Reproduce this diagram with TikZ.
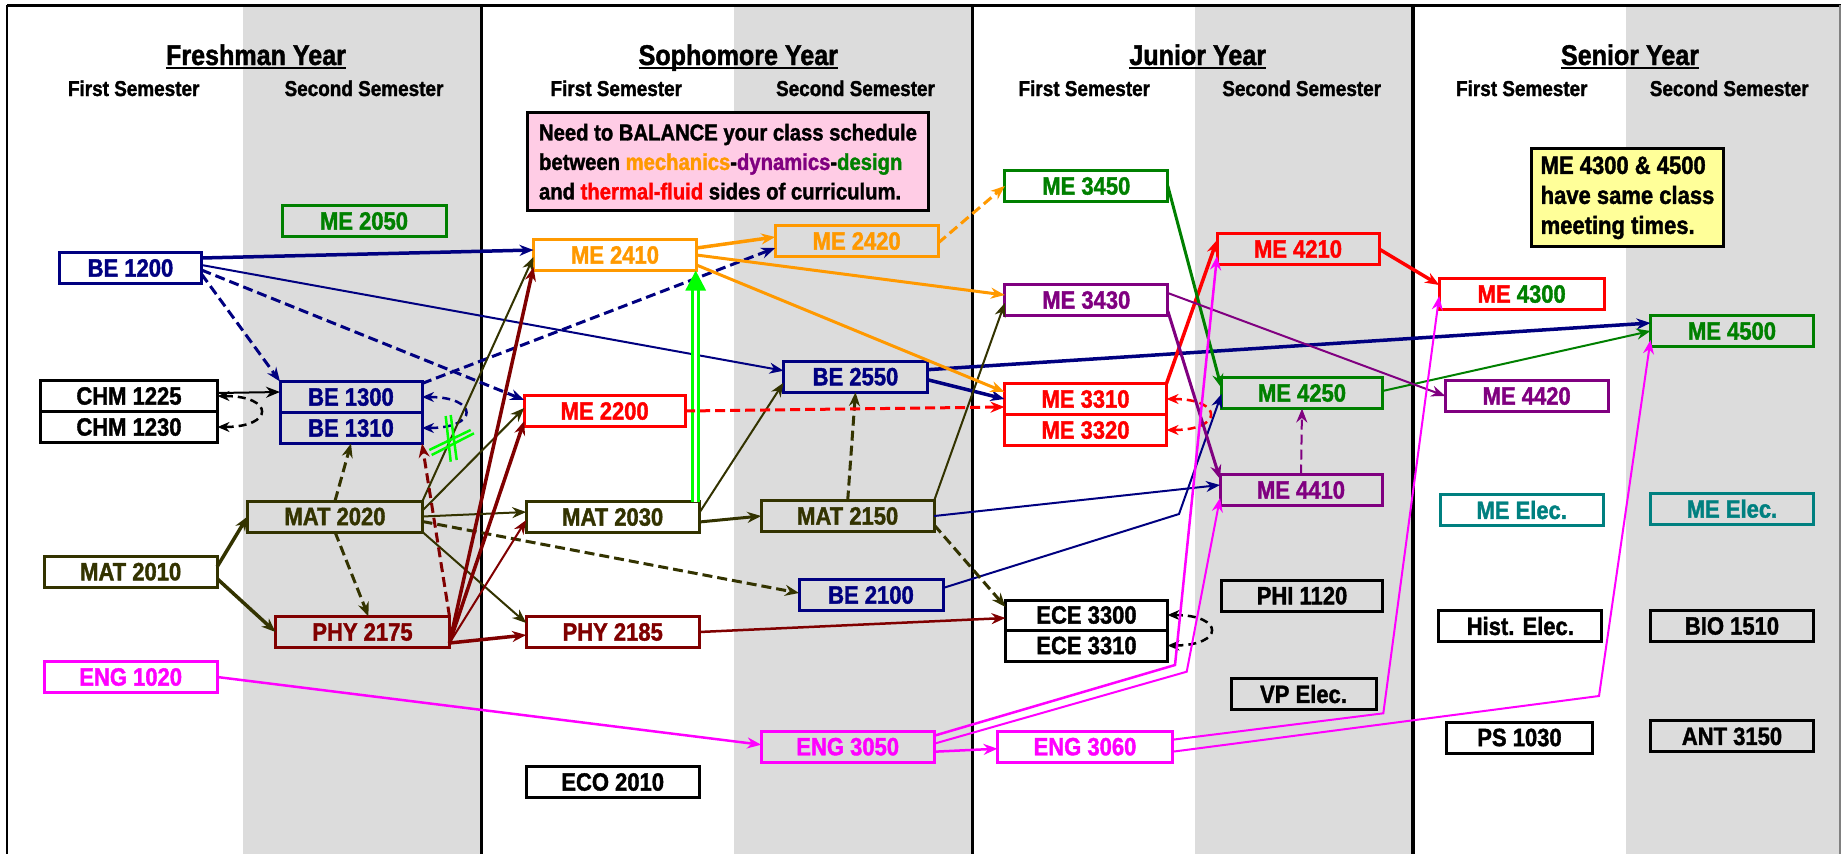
\documentclass[tikz,border=0pt]{standalone}
\usepackage{fontspec}
\setmainfont{Liberation Sans}[FakeStretch=0.88, BoldFeatures={FakeBold=1.5}]
\usetikzlibrary{arrows.meta,positioning}

\definecolor{cNavy}{RGB}{0,0,128}
\definecolor{cGreen}{RGB}{0,128,0}
\definecolor{cOrange}{RGB}{255,153,0}
\definecolor{cPurple}{RGB}{128,0,128}
\definecolor{cOlive}{RGB}{51,51,0}
\definecolor{cMaroon}{RGB}{128,0,0}
\definecolor{cRed}{RGB}{255,0,0}
\definecolor{cMagenta}{RGB}{255,0,255}
\definecolor{cTeal}{RGB}{0,128,128}
\definecolor{cLime}{RGB}{0,255,0}
\definecolor{cShade}{RGB}{220,220,220}
\definecolor{cPink}{RGB}{255,204,229}
\definecolor{cYellow}{RGB}{255,255,153}

\newcommand\coursefont{\bfseries\fontsize{25}{26}\selectfont}
\newcommand\yearfont{\bfseries\fontsize{28.5}{30}\selectfont}
\newcommand\semfont{\bfseries\fontsize{21.5}{23}\selectfont}
\newcommand\yearhead[1]{\setbox0=\hbox{#1}\hbox{\rlap{\rule[-3.5pt]{\wd0}{2pt}}\box0}}

\tikzset{
  course/.style={draw=#1, text=#1, line width=3pt, inner sep=0pt, outer sep=0pt,
    minimum height=31pt, font=\coursefont},
  yearhd/.style={font=\yearfont, anchor=base},
  semhd/.style={font=\semfont, anchor=base},
  notebox/.style={draw=black, line width=3pt, align=left, inner sep=0pt},
  prereq/.style={line width=2pt, -{Stealth[length=14pt,width=11pt]}},
  prereqbold/.style={prereq, line width=3.5pt},
  dashline/.style={dash pattern=on 10pt off 5pt},
  coreq/.style={draw=#1, line width=2.5pt, dash pattern=on 8pt off 5pt,
    {Stealth[length=12pt,width=10pt]}-{Stealth[length=12pt,width=10pt]}},
  hiarrow/.style={draw=cLime, line width=3pt, double=white, double distance=2.5pt,
    -{Triangle[length=20pt,width=20pt]}}
}

\begin{document}
\begin{tikzpicture}[x=1pt,y=-1pt]
\useasboundingbox (0,0) rectangle (1841,854);
% columns
\fill[white] (0,0) rectangle (1841,854);
\foreach \xa/\xb in {243/481.7, 734/972.5, 1195/1413, 1626/1841}
  \fill[cShade] (\xa,5) rectangle (\xb,854);
\draw[line width=3pt] (7,5) -- (1841,5);
\draw[line width=2pt] (7,5) -- (7,854);
\draw[gray, line width=1.5pt] (1840,5) -- (1840,854);
\foreach \x in {481.7,972.5,1413}
  \draw[line width=3.5pt] (\x,5) -- (\x,854);

% headings
\foreach \x/\yr [count=\i] in {256/Freshman, 738.3/Sophomore, 1197.7/Junior, 1630/Senior}
  \node[yearhd] (year\i) at (\x,65) {\yearhead{\yr\ Year}};
\foreach \x [count=\i] in {133.7,616.3,1084.3,1521.8}
  \node[semhd] (first\i) at (\x,96) {First Semester};
\foreach \x [count=\i] in {364,855.5,1301.7,1729.2}
  \node[semhd] (second\i) at (\x,96) {Second Semester};

% notes
\node[notebox, fill=cPink, minimum width=400.6pt, minimum height=98pt,
  font=\bfseries\fontsize{23}{29.5}\selectfont] (balance) at (728,161.7)
  {Need to BALANCE your class schedule\\
   between \textcolor{cOrange}{mechanics}-\textcolor{cPurple}{dynamics}-\textcolor{cGreen}{design}\\
   and \textcolor{cRed}{thermal-fluid} sides of curriculum.};
\node[notebox, fill=cYellow, minimum width=191.6pt, minimum height=97.7pt,
  font=\bfseries\fontsize{25}{30}\selectfont] (sametime) at (1627.5,197.8)
  {ME 4300 \& 4500\\ have same class\\ meeting times.};

% freshman
\node[course=cGreen, minimum width=164pt] (me2050) at (364,221) {ME 2050};
\node[course=cNavy, minimum width=142pt] (be1200) at (130.5,268) {BE 1200};
\node[course=black, minimum width=177pt] (chmA) at (129,396) {CHM 1225};
\node[course=black, minimum width=177pt, below=0pt of chmA] (chmB) {CHM 1230};
\node[course=cNavy, minimum width=142pt] (beA) at (351,397) {BE 1300};
\node[course=cNavy, minimum width=142pt, below=0pt of beA] (beB) {BE 1310};
\node[course=cOlive, minimum width=175pt] (mat2020) at (335,516.5) {MAT 2020};
\node[course=cOlive, minimum width=173pt] (mat2010) at (130.7,571.7) {MAT 2010};
\node[course=cMaroon, minimum width=174pt] (phy2175) at (362.5,632) {PHY 2175};
\node[course=cMagenta, minimum width=173pt] (eng1020) at (130.7,677) {ENG 1020};

% sophomore
\node[course=cOrange, minimum width=163pt] (me2410) at (615,255) {ME 2410};
\node[course=cOrange, minimum width=163pt] (me2420) at (856.7,241) {ME 2420};
\node[course=cNavy, minimum width=144pt] (be2550) at (855.5,376.7) {BE 2550};
\node[course=cRed, minimum width=161pt] (me2200) at (604.7,411) {ME 2200};
\node[course=cOlive, minimum width=173pt] (mat2030) at (612.7,517) {MAT 2030};
\node[course=cOlive, minimum width=173pt] (mat2150) at (847.7,516) {MAT 2150};
\node[course=cNavy, minimum width=144pt] (be2100) at (871,595) {BE 2100};
\node[course=cMaroon, minimum width=173pt] (phy2185) at (612.7,632) {PHY 2185};
\node[course=cMagenta, minimum width=173pt] (eng3050) at (847.7,746.7) {ENG 3050};
\node[course=black, minimum width=173pt] (eco2010) at (612.7,782) {ECO 2010};

% junior
\node[course=cGreen, minimum width=163pt] (me3450) at (1086.3,186) {ME 3450};
\node[course=cRed, minimum width=162pt] (me4210) at (1298,249) {ME 4210};
\node[course=cPurple, minimum width=163pt] (me3430) at (1086.3,300) {ME 3430};
\node[course=cRed, minimum width=162pt] (meA) at (1085.5,399) {ME 3310};
\node[course=cRed, minimum width=162pt, below=0pt of meA] (meB) {ME 3320};
\node[course=cGreen, minimum width=161pt] (me4250) at (1302,393) {ME 4250};
\node[course=cPurple, minimum width=162pt] (me4410) at (1301,490) {ME 4410};
\node[course=black, minimum width=161pt] (phi1120) at (1302,595.7) {PHI 1120};
\node[course=black, minimum width=162pt, minimum height=30pt] (eceA) at (1086.5,615) {ECE 3300};
\node[course=black, minimum width=162pt, minimum height=31pt, below=0pt of eceA] (eceB) {ECE 3310};
\node[course=black, minimum width=145pt] (vpelec) at (1303.5,694) {VP Elec.};
\node[course=cMagenta, minimum width=175pt] (eng3060) at (1085,746.7) {ENG 3060};

% senior
\node[course=cRed, minimum width=165pt] (me4300) at (1521.7,294)
  {\textcolor{cRed}{ME} \textcolor{cGreen}{4300}};
\node[course=cGreen, minimum width=163pt] (me4500) at (1732,331) {ME 4500};
\node[course=cPurple, minimum width=163pt] (me4420) at (1526.7,396) {ME 4420};
\node[course=cTeal, minimum width=163pt] (meelecA) at (1521.7,510) {ME Elec.};
\node[course=cTeal, minimum width=163pt] (meelecB) at (1732,508.7) {ME Elec.};
\node[course=black, minimum width=163pt] (histelec) at (1520.3,626) {Hist. Elec.};
\node[course=black, minimum width=163pt] (bio1510) at (1732,626) {BIO 1510};
\node[course=black, minimum width=146pt] (ps1030) at (1519.5,737.5) {PS 1030};
\node[course=black, minimum width=163pt] (ant3150) at (1732,736.3) {ANT 3150};

% bends
\coordinate (bendA) at (1179,514);
\coordinate (bendB) at (1175,665);
\coordinate (bendC) at (1186.7,671.7);
\coordinate (bendD) at (1383.3,713.3);
\coordinate (bendE) at (1599,696);

% navy
\draw[prereqbold, cNavy] ([yshift=10pt]be1200.east) -- ([yshift=5pt]me2410.west);
\draw[prereq, cNavy] ([yshift=3pt]be1200.east) -- ([yshift=6pt]be2550.west);
\draw[prereq, line width=3pt, cNavy, dashline] ([yshift=-6pt]be1200.east) -- (beA.north west);
\draw[prereq, line width=3pt, cNavy, dashline] ([yshift=-2pt]be1200.east) -- ([yshift=11pt]me2200.west);
\draw[prereq, line width=3pt, cNavy, dashline] ([yshift=-2pt]beA.north east) -- ([yshift=-7pt]me2420.west);
\draw[coreq=cNavy] (beA.east) .. controls +(57,0) and +(57,0) .. (beB.east);
\draw[prereq, cNavy] (mat2150.east) -- ([yshift=5pt]me4410.west);
\draw[prereq, cNavy] ([yshift=7pt]be2100.east) -- (bendA) -- ([yshift=-1pt]me4250.west);
\draw[prereqbold, cNavy] ([yshift=7pt]be2550.east) -- ([yshift=8pt]me4500.west);
\draw[prereqbold, cNavy] ([yshift=-3pt]be2550.east) -- (meA.west);

% black
\draw[prereq, black] ([yshift=3pt]chmA.east) -- ([yshift=5pt]beA.west);
\draw[coreq=black] (chmA.east) .. controls +(57,0) and +(57,0) .. (chmB.east);
\draw[coreq=black] (eceA.east) .. controls +(57,0) and +(57,0) .. (eceB.east);

% olive
\draw[prereqbold, cOlive] ([yshift=5pt]mat2010.east) -- (mat2020.west);
\draw[prereqbold, cOlive] ([yshift=-7pt]mat2010.east) -- (phy2175.west);
\draw[prereq, line width=3pt, cOlive, dashline] (mat2020.north) -- (beB.south);
\draw[prereq, line width=3pt, cOlive, dashline] (mat2020.south) -- ([xshift=6pt]phy2175.north);
\draw[prereq, cOlive] (mat2020.north east) -- ([yshift=-2pt]me2410.west);
\draw[prereq, cOlive] ([yshift=6pt]mat2020.east) -- ([yshift=3pt]me2200.west);
\draw[prereq, cOlive] (mat2020.east) -- ([yshift=5pt]mat2030.west);
\draw[prereq, line width=3pt, cOlive, dashline] ([yshift=-5pt]mat2020.east) -- ([yshift=2pt]be2100.west);
\draw[prereq, cOlive] (mat2020.south east) -- ([yshift=9pt]phy2185.west);
\draw[prereq, line width=3pt, cOlive] ([yshift=-5pt]mat2030.east) -- (mat2150.west);
\draw[prereq, cOlive] ([yshift=4pt]mat2030.east) -- ([yshift=-6pt]be2550.west);
\draw[prereq, line width=3pt, cOlive, dashline] (mat2150.north) -- (be2550.south);
\draw[prereq, cOlive] (mat2150.north east) -- ([yshift=-3pt]me3430.west);
\draw[prereq, line width=3pt, cOlive, dashline] ([yshift=-9pt]mat2150.east) -- ([yshift=8pt]eceA.west);

% maroon
\draw[prereq, line width=3pt, cMaroon, dashline] (phy2175.north east) -- (beB.south east);
\draw[prereqbold, cMaroon] ([yshift=-11pt]phy2175.east) -- ([yshift=-12pt]me2410.west);
\draw[prereqbold, cMaroon] ([yshift=-11pt]phy2175.east) -- ([yshift=-10pt]me2200.west);
\draw[prereq, cMaroon] ([yshift=-11pt]phy2175.east) -- ([yshift=-3pt]mat2030.west);
\draw[prereqbold, cMaroon] ([yshift=-11pt]phy2175.east) -- ([yshift=-3pt]phy2185.west);
\draw[prereq, line width=2.5pt, cMaroon] (phy2185.east) -- ([yshift=-3pt]eceA.west);

% lime
\draw[hiarrow] ([xshift=-3.5pt]mat2030.north east) -- ([xshift=-3.5pt]mat2030.north east |- me2410.south);
\draw[cLime, line width=2.5pt] (445.7,416) -- (450.7,461.7) (450.7,415) -- (456.7,460)
  (429.3,450) -- (470.7,430) (431.7,455) -- (474,433.3);

% orange
\draw[prereqbold, cOrange] ([yshift=7pt]me2410.east) -- ([yshift=4pt]me2420.west);
\draw[prereq, line width=3pt, cOrange] (me2410.east) -- ([yshift=5pt]me3430.west);
\draw[prereq, line width=3pt, cOrange] ([yshift=-10pt]me2410.east) -- ([yshift=7pt]meA.west);
\draw[prereq, line width=3pt, cOrange, dashline] ([yshift=-2pt]me2420.east) -- (me3450.west);

% red
\draw[prereq, line width=3pt, cRed, dashline] (me2200.east) -- ([yshift=-8pt]meA.west);
\draw[prereqbold, cRed] (meA.north east) -- ([yshift=9pt]me4210.west);
\draw[prereqbold, cRed] (me4210.east) -- ([yshift=9pt]me4300.west);
\draw[coreq=cRed] (meA.east) .. controls +(57,0) and +(57,0) .. (meB.east);

% green
\draw[prereq, line width=3pt, cGreen] (me3450.east) -- ([yshift=5pt]me4250.west);
\draw[prereq, cGreen] ([yshift=2pt]me4250.east) -- (me4500.west);

% purple
\draw[prereq, cPurple] ([yshift=7pt]me3430.east) -- (me4420.west);
\draw[prereq, line width=3pt, cPurple] ([yshift=-11pt]me3430.east) -- ([yshift=11pt]me4410.west);
\draw[prereq, cPurple, dashline] (me4410.north) -- (me4250.south);

% magenta
\draw[prereq, line width=2.5pt, cMagenta] (eng1020.east) -- ([yshift=2pt]eng3050.west);
\draw[prereq, line width=2.5pt, cMagenta] ([yshift=-5pt]eng3050.east) -- ([yshift=-2pt]eng3060.west);
\draw[prereq, line width=2.5pt, cMagenta] ([yshift=11pt]eng3050.east) -- (bendB) -- ([yshift=-7pt]me4210.west);
\draw[prereq, cMagenta] ([yshift=3pt]eng3050.east) -- (bendC) -- ([yshift=-8pt]me4410.west);
\draw[prereq, cMagenta] ([yshift=7pt]eng3060.east) -- (bendD) -- ([yshift=-2pt]me4300.west);
\draw[prereq, cMagenta] ([yshift=-5pt]eng3060.east) -- (bendE) -- ([yshift=-9pt]me4500.west);
\end{tikzpicture}
\end{document}
